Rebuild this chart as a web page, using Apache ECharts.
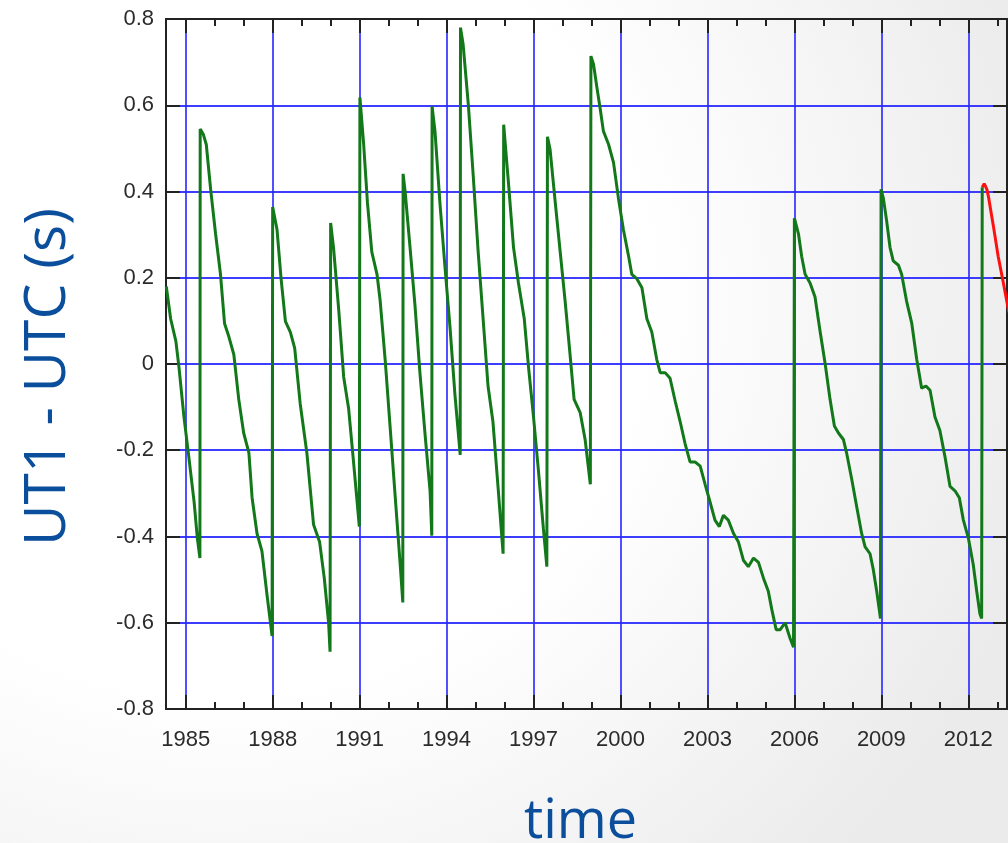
<!DOCTYPE html>
<html>
<head>
<meta charset="utf-8">
<script src="https://cdn.jsdelivr.net/npm/echarts@6/dist/echarts.min.js"></script>
<style>
  html, body { margin: 0; padding: 0; }
  body {
    width: 1008px; height: 843px; overflow: hidden;
    background: radial-gradient(ellipse 85% 95% at 22% 35%, #ffffff 50%, #ebebeb 100%);
  }
  #chart { width: 1008px; height: 843px; }
</style>
</head>
<body>
<div id="chart"></div>
<script>
// Labelled years (major ticks / vertical grid lines) and every year (minor ticks)
const majorYears = [1985, 1988, 1991, 1994, 1997, 2000, 2003, 2006, 2009, 2012];
const allYears = [1985, 1986, 1987, 1988, 1989, 1990, 1991, 1992, 1993, 1994, 1995, 1996, 1997, 1998,
  1999, 2000, 2001, 2002, 2003, 2004, 2005, 2006, 2007, 2008, 2009, 2010, 2011, 2012, 2013];

// Observed UT1 - UTC (seconds); each leap second shows as a near-vertical jump
const ut1Years = [
  1984.33, 1984.48, 1984.66, 1984.77, 1984.94, 1985.11, 1985.29, 1985.40, 1985.49,
  1985.50, 1985.61, 1985.71, 1985.86, 1986.03, 1986.20, 1986.34, 1986.49, 1986.66, 1986.83,
  1987.00, 1987.18, 1987.29, 1987.46, 1987.63, 1987.81, 1987.98,
  1988.00, 1988.15, 1988.29, 1988.44, 1988.61, 1988.76, 1988.95, 1989.18, 1989.41, 1989.62,
  1989.78, 1989.93, 1989.98,
  1990.00, 1990.10, 1990.28, 1990.45, 1990.62, 1990.79, 1990.99,
  1991.01, 1991.14, 1991.27, 1991.42, 1991.60, 1991.71, 1991.88, 1992.05, 1992.23, 1992.40, 1992.49,
  1992.50, 1992.57, 1992.74, 1992.91, 1993.08, 1993.26, 1993.43, 1993.49,
  1993.50, 1993.60, 1993.77, 1993.94, 1994.12, 1994.29, 1994.47,
  1994.48, 1994.57, 1994.75, 1994.92, 1995.09, 1995.26, 1995.43, 1995.60, 1995.78, 1995.95,
  1995.97, 1996.14, 1996.31, 1996.48, 1996.68, 1996.83, 1997.00, 1997.17, 1997.34, 1997.46,
  1997.48, 1997.57, 1997.75, 1997.92, 1998.09, 1998.26, 1998.40, 1998.61, 1998.78, 1998.96,
  1998.98, 1999.07, 1999.18, 1999.30, 1999.41, 1999.59, 1999.76, 1999.93, 2000.10, 2000.28,
  2000.39, 2000.56, 2000.74, 2000.91, 2001.08, 2001.25, 2001.37, 2001.54, 2001.71, 2001.89,
  2002.06, 2002.23, 2002.40, 2002.57, 2002.75, 2002.92, 2003.09, 2003.26, 2003.41, 2003.55,
  2003.72, 2003.90, 2004.07, 2004.24, 2004.41, 2004.59, 2004.76, 2004.93, 2005.10, 2005.22,
  2005.37, 2005.51, 2005.68, 2005.85, 2005.97,
  2006.00, 2006.14, 2006.25, 2006.37, 2006.54, 2006.71, 2006.89, 2007.06, 2007.23, 2007.38,
  2007.52, 2007.69, 2007.80, 2007.98, 2008.15, 2008.32, 2008.44, 2008.61, 2008.72, 2008.84, 2008.97,
  2008.99, 2009.07, 2009.18, 2009.30, 2009.41, 2009.59, 2009.70, 2009.87, 2010.05, 2010.22,
  2010.39, 2010.54, 2010.68, 2010.85, 2011.02, 2011.20, 2011.37, 2011.54, 2011.69, 2011.83,
  2012.00, 2012.17, 2012.29, 2012.40, 2012.46,
  2012.48
];
const ut1Values = [
  0.180, 0.105, 0.053, -0.009, -0.123, -0.217, -0.320, -0.403, -0.450,
  0.545, 0.532, 0.509, 0.405, 0.302, 0.208, 0.094, 0.063, 0.022, -0.082,
  -0.160, -0.206, -0.310, -0.393, -0.434, -0.538, -0.631,
  0.364, 0.312, 0.198, 0.099, 0.074, 0.037, -0.092, -0.206, -0.372, -0.413,
  -0.496, -0.600, -0.667,
  0.327, 0.270, 0.125, -0.030, -0.103, -0.227, -0.377,
  0.618, 0.509, 0.374, 0.260, 0.208, 0.146, 0.011, -0.144, -0.310, -0.465, -0.553,
  0.441, 0.400, 0.270, 0.136, -0.020, -0.165, -0.294, -0.398,
  0.597, 0.540, 0.374, 0.229, 0.084, -0.072, -0.211,
  0.780, 0.742, 0.602, 0.436, 0.260, 0.105, -0.051, -0.134, -0.289, -0.440,
  0.555, 0.416, 0.270, 0.188, 0.105, -0.009, -0.123, -0.248, -0.382, -0.470,
  0.527, 0.498, 0.374, 0.260, 0.146, 0.022, -0.082, -0.113, -0.175, -0.279,
  0.714, 0.695, 0.644, 0.592, 0.540, 0.509, 0.467, 0.384, 0.312, 0.250,
  0.208, 0.198, 0.177, 0.105, 0.074, 0.011, -0.020, -0.020, -0.033, -0.087,
  -0.134, -0.185, -0.227, -0.227, -0.237, -0.279, -0.320, -0.362, -0.377, -0.351,
  -0.362, -0.393, -0.413, -0.455, -0.470, -0.450, -0.460, -0.496, -0.527, -0.569,
  -0.616, -0.616, -0.600, -0.636, -0.657,
  0.338, 0.302, 0.250, 0.208, 0.188, 0.156, 0.074, 0.001, -0.082, -0.144,
  -0.160, -0.175, -0.206, -0.268, -0.331, -0.393, -0.424, -0.440, -0.476, -0.527, -0.590,
  0.405, 0.384, 0.333, 0.270, 0.239, 0.229, 0.208, 0.146, 0.094, 0.011,
  -0.056, -0.051, -0.061, -0.123, -0.154, -0.217, -0.284, -0.294, -0.310, -0.362,
  -0.403, -0.465, -0.527, -0.579, -0.590,
  0.410
];

// Predicted continuation after the last leap second
const predYears = [2012.48, 2012.55, 2012.64, 2012.69, 2012.86, 2013.03, 2013.21, 2013.40];
const predValues = [0.410, 0.418, 0.405, 0.390, 0.322, 0.250, 0.188, 0.120];

const X_MIN = 1984.32, X_MAX = 2013.335;

const zip = (xs, ys) => xs.map((x, i) => [x, ys[i]]);

const axisDark = '#222222';
const gridBlue = 'rgba(40, 40, 255, 0.9)';
const tickFont = { fontFamily: 'Liberation Sans, Arial, sans-serif', fontSize: 22, color: '#2b2b2b' };
const titleFont = { fontFamily: 'Open Sans, sans-serif', fontSize: 57, color: '#0b4f9c' };

function xAxisDef(position, values, len, main) {
  const isMainBottom = position === 'bottom' && main;
  return {
    type: 'value', position: position, min: X_MIN, max: X_MAX,
    axisLine: { show: main, onZero: false, lineStyle: { color: axisDark, width: 2 } },
    axisTick: { show: true, inside: true, length: len, customValues: values,
      lineStyle: { color: axisDark, width: 2 } },
    axisLabel: isMainBottom
      ? Object.assign({ show: true, margin: 20, customValues: majorYears, formatter: v => String(v) }, tickFont)
      : { show: false },
    splitLine: { show: isMainBottom, lineStyle: { color: gridBlue, width: 1.8 } },
    name: isMainBottom ? 'time' : '',
    nameLocation: 'middle', nameGap: 87,
    nameTextStyle: Object.assign({ padding: [0, 12, 0, 0] }, titleFont, { fontSize: 54 })
  };
}

const chart = echarts.init(document.getElementById('chart'), null, { renderer: 'canvas' });
chart.setOption({
  backgroundColor: 'transparent',
  animation: false,
  grid: { left: 166, top: 19, width: 841, height: 690, containLabel: false, outerBoundsMode: 'none' },
  xAxis: [
    xAxisDef('bottom', majorYears, 14, true),
    xAxisDef('bottom', allYears, 7, false),
    xAxisDef('top', majorYears, 14, true),
    xAxisDef('top', allYears, 7, false)
  ],
  yAxis: [
    {
      type: 'value', position: 'left', min: -0.8, max: 0.8, interval: 0.2,
      axisLine: { show: true, onZero: false, lineStyle: { color: axisDark, width: 2 } },
      axisTick: { show: true, inside: true, length: 14, lineStyle: { color: axisDark, width: 2 } },
      axisLabel: Object.assign({ margin: 12 }, tickFont),
      splitLine: { show: true, lineStyle: { color: gridBlue, width: 1.8 } },
      name: 'UT1 - UTC (s)', nameLocation: 'middle', nameRotate: 90, nameGap: 89,
      nameTextStyle: Object.assign({ padding: [0, 26, 0, 0] }, titleFont)
    },
    {
      type: 'value', position: 'right', min: -0.8, max: 0.8, interval: 0.2,
      axisLine: { show: true, onZero: false, lineStyle: { color: axisDark, width: 2 } },
      axisTick: { show: true, inside: true, length: 14, lineStyle: { color: axisDark, width: 2 } },
      axisLabel: { show: false },
      splitLine: { show: false }
    }
  ],
  series: [
    {
      name: 'UT1 - UTC', type: 'line', xAxisIndex: 0, yAxisIndex: 0,
      data: zip(ut1Years, ut1Values), showSymbol: false, symbol: 'none', clip: true,
      lineStyle: { color: '#12781a', width: 3 }, z: 5
    },
    {
      name: 'prediction', type: 'line', xAxisIndex: 0, yAxisIndex: 0,
      data: zip(predYears, predValues), showSymbol: false, symbol: 'none', clip: true,
      lineStyle: { color: '#ff1010', width: 3 }, z: 6
    }
  ]
});
</script>
</body>
</html>
